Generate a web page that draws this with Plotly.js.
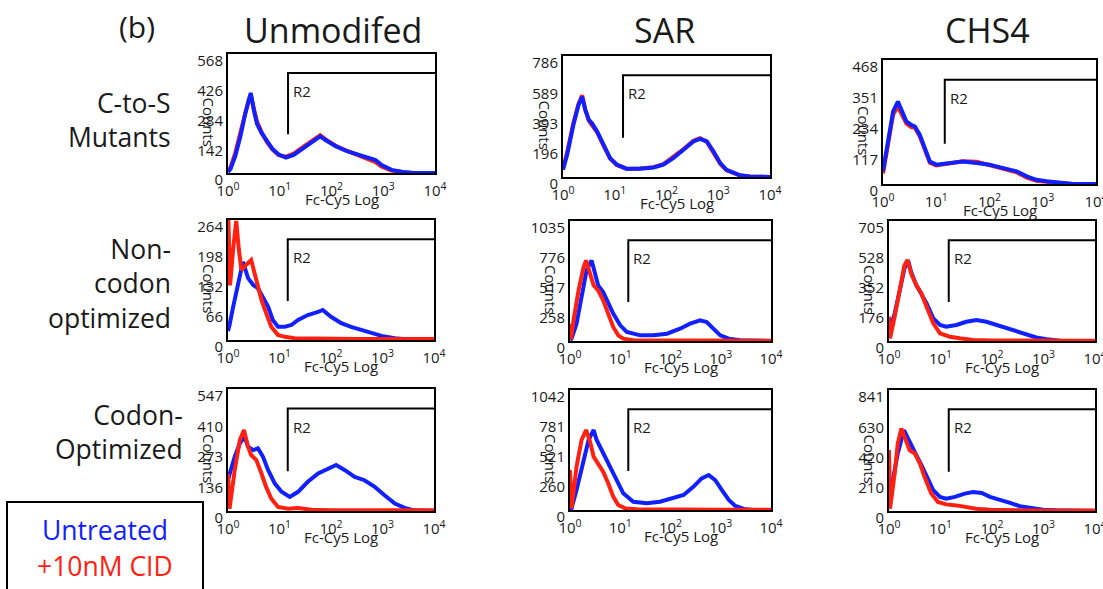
<!DOCTYPE html>
<html>
<head>
<meta charset="utf-8">
<script src="https://cdn.plot.ly/plotly-3.0.1.min.js"></script>
<style>html,body{margin:0;padding:0;background:#fff;}#chart{width:1103px;height:589px;}</style>
</head>
<body>
<div id="chart"></div>
<script>
// ---------------- DATA ----------------
const colTitles = ['Unmodifed', 'SAR', 'CHS4'];
const rowTitles = ['C-to-S<br>Mutants', 'Non-<br>codon<br>optimized', 'Codon-<br>Optimized'];
const seriesNames = ['Untreated', '+10nM CID'];
const xTickVals = [0, 1, 2, 3, 4];              // decades of Fc-Cy5
const xTickText = ['10<sup>0</sup>', '10<sup>1</sup>', '10<sup>2</sup>', '10<sup>3</sup>', '10<sup>4</sup>'];
const yMax = [[568, 786, 468], [264, 1035, 705], [547, 1042, 841]];
const yTickText = [
  [['0','142','284','426','568'], ['0','196','393','589','786'], ['0','117','234','351','468']],
  [['0','66','132','198','264'], ['0','258','517','776','1035'], ['0','176','352','528','705']],
  [['0','136','273','410','547'], ['0','260','521','781','1042'], ['0','210','420','630','841']]
];
const yTickVals = [
  [[0,142,284,426,568], [0,196,393,589,786], [0,117,234,351,468]],
  [[0,66,132,198,264], [0,258,517,776,1035], [0,176,352,528,705]],
  [[0,136,273,410,547], [0,260,521,781,1042], [0,210,420,630,841]]
];
const gateDecade = 1.16;    // R2 gate start (decade)

// Row 1: C-to-S mutants
const csUnmodX = [0, 0.05, 0.14, 0.24, 0.33, 0.40, 0.44, 0.50, 0.56, 0.65, 0.75, 0.86, 0.98, 1.12, 1.27, 1.46, 1.65, 1.78, 1.90, 2.08, 2.30, 2.50, 2.70, 2.85, 2.97, 3.16, 3.38, 3.58, 4.0];
const csUnmodBlue = [5, 20, 80, 175, 280, 345, 382, 300, 235, 190, 150, 115, 88, 74, 86, 120, 152, 175, 155, 128, 104, 88, 76, 62, 38, 15, 5, 0, 0];
const csUnmodRed  = [8, 28, 95, 190, 290, 350, 370, 310, 245, 195, 148, 112, 85, 78, 92, 126, 158, 180, 158, 130, 106, 86, 70, 52, 30, 12, 4, 0, 0];

const csSarX = [0, 0.08, 0.2, 0.3, 0.37, 0.43, 0.5, 0.56, 0.66, 0.78, 0.91, 1.04, 1.23, 1.49, 1.75, 1.94, 2.13, 2.33, 2.52, 2.65, 2.78, 2.91, 3.04, 3.16, 3.29, 3.42, 3.61, 4.0];
const csSarBlue = [47, 144, 338, 468, 521, 435, 371, 349, 295, 209, 123, 80, 54, 54, 62, 80, 123, 177, 231, 248, 231, 166, 90, 47, 26, 11, 4, 0];
const csSarRed  = [55, 160, 350, 475, 530, 440, 365, 340, 290, 205, 120, 78, 52, 56, 64, 84, 128, 182, 236, 252, 228, 160, 85, 44, 24, 10, 3, 0];

const csChsX = [0, 0.09, 0.19, 0.28, 0.34, 0.44, 0.53, 0.6, 0.69, 0.78, 0.88, 1.0, 1.25, 1.5, 1.76, 2.0, 2.26, 2.51, 2.7, 2.88, 3.07, 3.32, 3.57, 4.0];
const csChsBlue = [48, 161, 274, 311, 280, 236, 223, 217, 186, 136, 85, 73, 79, 85, 79, 73, 60, 48, 29, 16, 10, 4, 0, 0];
const csChsRed  = [40, 150, 262, 292, 268, 228, 215, 212, 180, 130, 80, 70, 78, 86, 84, 72, 56, 44, 24, 12, 8, 3, 0, 0];

// Row 2: non-codon optimized
const ncUnmodBlueX = [0, 0.03, 0.1, 0.19, 0.29, 0.39, 0.49, 0.58, 0.68, 0.78, 0.87, 0.97, 1.1, 1.23, 1.36, 1.55, 1.75, 1.84, 2.0, 2.2, 2.39, 2.59, 2.78, 2.98, 3.24, 3.5, 4.0];
const ncUnmodBlue  = [20, 33, 73, 125, 172, 136, 121, 114, 95, 73, 44, 29, 29, 33, 44, 55, 62, 66, 51, 37, 29, 22, 15, 9, 4, 1, 0];
const ncUnmodRedX  = [0, 0.04, 0.1, 0.16, 0.21, 0.26, 0.35, 0.45, 0.55, 0.65, 0.74, 0.84, 0.97, 1.1, 1.29, 1.6, 2.0, 2.5, 3.0, 3.5, 4.0];
const ncUnmodRed   = [300, 120, 200, 262, 200, 154, 165, 176, 132, 88, 59, 29, 11, 7, 4, 3, 2, 2, 2, 2, 2];

const ncSarBlueX = [0, 0.03, 0.13, 0.23, 0.33, 0.43, 0.5, 0.56, 0.66, 0.76, 0.86, 1.0, 1.13, 1.4, 1.66, 1.93, 2.19, 2.39, 2.59, 2.72, 2.86, 2.99, 3.16, 3.39, 4.0];
const ncSarBlue  = [10, 20, 149, 379, 609, 695, 580, 480, 422, 336, 236, 135, 78, 49, 49, 63, 106, 149, 178, 164, 106, 49, 20, 6, 0];
const ncSarRedX  = [0, 0.02, 0.07, 0.17, 0.27, 0.32, 0.4, 0.47, 0.56, 0.66, 0.76, 0.86, 0.96, 1.06, 1.26, 2.0, 3.0, 4.0];
const ncSarRed   = [149, 15, 178, 437, 638, 695, 580, 480, 437, 351, 236, 121, 49, 20, 6, 3, 3, 3];

const ncChsBlueX = [0, 0.11, 0.21, 0.3, 0.37, 0.43, 0.53, 0.63, 0.73, 0.86, 0.99, 1.11, 1.31, 1.5, 1.7, 1.89, 2.09, 2.28, 2.48, 2.67, 2.86, 3.06, 3.32, 4.0];
const ncChsBlue  = [45, 162, 299, 426, 475, 406, 328, 279, 221, 133, 94, 84, 94, 113, 123, 113, 94, 74, 55, 35, 21, 10, 2, 0];
const ncChsRedX  = [0, 0.02, 0.11, 0.21, 0.3, 0.36, 0.43, 0.53, 0.63, 0.73, 0.86, 0.99, 1.18, 1.37, 1.63, 2.0, 3.0, 4.0];
const ncChsRed   = [143, 16, 143, 318, 445, 475, 396, 328, 279, 201, 104, 45, 25, 16, 6, 3, 2, 2];

// Row 3: codon-optimized
const coUnmodBlueX = [0, 0.03, 0.13, 0.23, 0.32, 0.39, 0.49, 0.58, 0.68, 0.78, 0.91, 1.04, 1.2, 1.36, 1.55, 1.75, 1.94, 2.1, 2.27, 2.46, 2.65, 2.85, 3.04, 3.24, 3.43, 3.62, 4.0];
const coUnmodBlue  = [140, 168, 243, 303, 333, 288, 273, 281, 243, 183, 123, 86, 63, 86, 131, 168, 191, 206, 183, 153, 138, 108, 71, 33, 14, 3, 0];
const coUnmodRedX  = [0, 0.03, 0.13, 0.23, 0.31, 0.39, 0.45, 0.55, 0.65, 0.74, 0.84, 0.97, 1.17, 1.36, 1.62, 2.0, 3.0, 4.0];
const coUnmodRed   = [168, 10, 183, 318, 363, 288, 251, 228, 168, 108, 56, 18, 10, 13, 6, 3, 3, 3];

const coSarBlueX = [0, 0.03, 0.13, 0.27, 0.37, 0.47, 0.53, 0.63, 0.73, 0.83, 0.93, 1.06, 1.26, 1.53, 1.79, 2.06, 2.26, 2.46, 2.62, 2.76, 2.89, 3.02, 3.16, 3.29, 3.46, 3.65, 4.0];
const coSarBlue  = [5, 14, 174, 434, 608, 695, 608, 521, 434, 347, 246, 145, 72, 58, 72, 101, 130, 203, 275, 304, 260, 174, 87, 35, 9, 0, 0];
const coSarRedX  = [0, 0.03, 0.13, 0.23, 0.32, 0.4, 0.47, 0.56, 0.66, 0.76, 0.86, 0.96, 1.1, 1.33, 2.0, 3.0, 4.0];
const coSarRed   = [347, 14, 376, 608, 695, 593, 463, 405, 333, 232, 116, 43, 14, 6, 3, 3, 3];

const coChsBlueX = [0, 0.08, 0.17, 0.29, 0.37, 0.43, 0.53, 0.63, 0.73, 0.86, 0.99, 1.11, 1.28, 1.47, 1.63, 1.8, 1.96, 2.15, 2.35, 2.54, 2.73, 2.99, 3.25, 4.0];
const coChsBlue  = [74, 214, 400, 562, 504, 446, 388, 318, 237, 144, 98, 86, 98, 121, 132, 125, 98, 74, 56, 33, 21, 9, 5, 0];
const coChsRedX  = [0, 0.02, 0.11, 0.17, 0.24, 0.3, 0.4, 0.5, 0.6, 0.69, 0.82, 0.95, 1.11, 1.31, 1.5, 1.69, 1.96, 2.5, 3.0, 4.0];
const coChsRed   = [423, 16, 260, 469, 574, 516, 423, 400, 330, 237, 121, 63, 46, 39, 28, 16, 9, 4, 3, 3];

// ---------------- LAYOUT / DRAWING ----------------
const W = 1103, H = 589;
const FONT = 'Open Sans, Lato, sans-serif';
const TXT = '#1a1a1a';
const BLUE = '#1020ff';
const RED = '#ff2010';

// panel boxes in pixels: [left, top, right, bottom]
const boxes = [
  [[228, 54, 435, 173], [563, 56, 770, 177], [883, 60, 1096, 184]],
  [[228, 220, 434, 340], [570, 221, 771, 341], [889, 221, 1095, 341]],
  [[228, 389, 434, 511], [570, 390, 771, 510], [889, 390, 1095, 511]]
];
const panelData = [
  [
    {bx: csUnmodX, b: csUnmodBlue, rx: csUnmodX, r: csUnmodRed, redFirst: true},
    {bx: csSarX, b: csSarBlue, rx: csSarX, r: csSarRed, redFirst: true},
    {bx: csChsX, b: csChsBlue, rx: csChsX, r: csChsRed, redFirst: true}
  ],
  [
    {bx: ncUnmodBlueX, b: ncUnmodBlue, rx: ncUnmodRedX, r: ncUnmodRed, redFirst: false},
    {bx: ncSarBlueX, b: ncSarBlue, rx: ncSarRedX, r: ncSarRed, redFirst: false},
    {bx: ncChsBlueX, b: ncChsBlue, rx: ncChsRedX, r: ncChsRed, redFirst: false}
  ],
  [
    {bx: coUnmodBlueX, b: coUnmodBlue, rx: coUnmodRedX, r: coUnmodRed, redFirst: false},
    {bx: coSarBlueX, b: coSarBlue, rx: coSarRedX, r: coSarRed, redFirst: false},
    {bx: coChsBlueX, b: coChsBlue, rx: coChsRedX, r: coChsRed, redFirst: false}
  ]
];

const px = v => v / W;
const py = v => 1 - v / H;

const traces = [];
const layout = {
  width: W, height: H,
  margin: {l: 0, r: 0, t: 0, b: 0},
  paper_bgcolor: '#fff', plot_bgcolor: 'rgba(0,0,0,0)',
  showlegend: false,
  font: {family: FONT, color: TXT},
  annotations: [],
  shapes: []
};

let k = 0;
for (let r = 0; r < 3; r++) {
  for (let c = 0; c < 3; c++) {
    k++;
    const sfx = k === 1 ? '' : String(k);
    const xa = 'x' + sfx, ya = 'y' + sfx;
    const [L, T, R, B] = boxes[r][c];
    const ymax = yMax[r][c];

    layout['xaxis' + sfx] = {
      domain: [px(L), px(R)], anchor: ya, range: [0, 4],
      tickmode: 'array', tickvals: xTickVals, ticktext: xTickText,
      showline: true, mirror: true, linecolor: '#000', linewidth: 2,
      showgrid: false, zeroline: false, ticks: '',
      tickfont: {size: 15, family: FONT, color: TXT}, ticklabelstandoff: 3,
      ticklabeloverflow: 'allow',
      fixedrange: true
    };
    layout['yaxis' + sfx] = {
      domain: [py(B), py(T)], anchor: xa, range: [0, ymax],
      tickmode: 'array', tickvals: yTickVals[r][c], ticktext: yTickText[r][c],
      showline: true, mirror: true, linecolor: '#000', linewidth: 2,
      showgrid: false, zeroline: false, ticks: '',
      tickfont: {size: 15, family: FONT, color: TXT},
      ticklabelshift: 7, ticklabelstandoff: 0, ticklabeloverflow: 'allow',
      fixedrange: true
    };

    // R2 gate
    traces.push({
      x: [gateDecade, gateDecade, 4], y: [0.325 * ymax, 0.84 * ymax, 0.84 * ymax],
      xaxis: xa, yaxis: ya, mode: 'lines', line: {color: '#000', width: 2},
      hoverinfo: 'skip'
    });
    layout.annotations.push({
      xref: xa, yref: ya, x: gateDecade, y: 0.84 * ymax, text: 'R2',
      showarrow: false, xanchor: 'left', yanchor: 'top', xshift: 3, yshift: -6,
      font: {size: 15, family: FONT, color: TXT}
    });

    const d = panelData[r][c];
    const blue = {x: d.bx, y: d.b, xaxis: xa, yaxis: ya, mode: 'lines', name: seriesNames[0],
      line: {color: BLUE, width: 4}};
    const red = {x: d.rx, y: d.r, xaxis: xa, yaxis: ya, mode: 'lines', name: seriesNames[1],
      line: {color: RED, width: 4}};
    if (d.redFirst) { traces.push(red, blue); } else { traces.push(blue, red); }

    // axis titles
    layout.annotations.push({
      xref: 'paper', yref: 'paper', x: px(L - 19), y: py((T + B) / 2 + 8),
      text: 'Counts', textangle: 90, showarrow: false,
      xanchor: 'center', yanchor: 'middle',
      font: {size: 15, family: FONT, color: TXT}
    });
    layout.annotations.push({
      xref: 'paper', yref: 'paper', x: px(L + 0.55 * (R - L)), y: py(B + 26),
      text: 'Fc-Cy5 Log', showarrow: false, xanchor: 'center', yanchor: 'middle',
      font: {size: 15, family: FONT, color: TXT}
    });
  }
}

// column titles
const colCenters = [333, 664, 987];
colTitles.forEach((t, i) => layout.annotations.push({
  xref: 'paper', yref: 'paper', x: px(colCenters[i]), y: py(30), text: t,
  showarrow: false, xanchor: 'center', yanchor: 'middle',
  font: {size: 34, family: FONT, color: TXT}
}));
layout.annotations.push({
  xref: 'paper', yref: 'paper', x: px(137), y: py(27), text: '(b)',
  showarrow: false, xanchor: 'center', yanchor: 'middle',
  font: {size: 30, family: FONT, color: TXT}
});

// row titles
const rowRight = [173, 173, 185];
const rowCenters = [120, 283, 432];
rowTitles.forEach((t, i) => layout.annotations.push({
  xref: 'paper', yref: 'paper', x: px(rowRight[i]), y: py(rowCenters[i]), text: t,
  showarrow: false, xanchor: 'right', yanchor: 'middle', align: 'right',
  font: {size: 26.5, family: FONT, color: TXT}
}));

// legend box
layout.shapes.push({
  type: 'rect', xref: 'paper', yref: 'paper',
  x0: px(7), x1: px(203), y0: py(600), y1: py(502),
  line: {color: '#000', width: 2}, fillcolor: 'rgba(0,0,0,0)'
});
layout.annotations.push({
  xref: 'paper', yref: 'paper', x: px(105), y: py(530), text: seriesNames[0],
  showarrow: false, xanchor: 'center', yanchor: 'middle',
  font: {size: 26.5, family: FONT, color: BLUE}
});
layout.annotations.push({
  xref: 'paper', yref: 'paper', x: px(105), y: py(566), text: seriesNames[1],
  showarrow: false, xanchor: 'center', yanchor: 'middle',
  font: {size: 26.5, family: FONT, color: RED}
});

Plotly.newPlot('chart', traces, layout, {displayModeBar: false, staticPlot: true});
</script>
</body>
</html>
